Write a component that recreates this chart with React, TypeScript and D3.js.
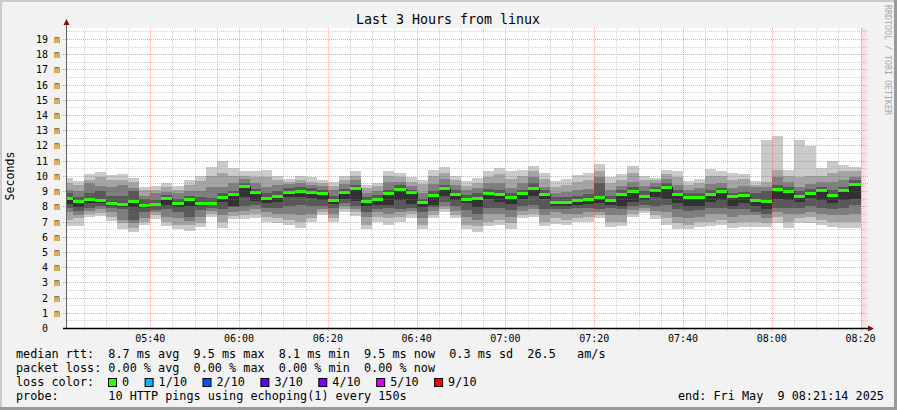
import React from "react";
import * as d3 from "d3";

const WIDTH = 897;
const HEIGHT = 410;
const MONO = "'DejaVu Sans Mono', monospace";

// 150 s steps ending 05:22:30 ... 08:20:00 (the first one is only partly in view)
const median = [
  8.57, 8.35, 8.46, 8.39, 8.22, 8.12, 8.37, 8.1, 8.17, 8.55,
  8.22, 8.5, 8.24, 8.2, 8.59, 8.83, 9.31, 8.92, 8.57, 8.7,
  8.96, 9.03, 8.96, 8.85, 8.42, 8.96, 9.2, 8.37, 8.5, 8.9,
  9.16, 8.96, 8.28, 8.72, 9.23, 8.83, 8.5, 8.55, 8.9, 8.79,
  8.63, 8.9, 9.23, 8.81, 8.31, 8.26, 8.42, 8.46, 8.61, 8.42,
  8.83, 9.01, 8.66, 9.05, 9.27, 8.83, 8.61, 8.63, 8.83, 9.03,
  8.68, 8.74, 8.39, 8.33, 9.14, 8.99, 8.66, 8.9, 9.07, 8.74,
  9.07, 9.49,
];

// the 10 pings of each step, sorted (ping1 fastest .. ping10 slowest)
const ping1 = [
  6.73, 6.73, 7.28, 7.36, 7.06, 6.49, 6.33, 6.79, 7.14, 6.71,
  6.49, 6.4, 6.66, 7.28, 6.57, 7.17, 7.14, 7.2, 7.0, 6.9,
  6.8, 6.6, 7.0, 7.4, 6.95, 7.65, 7.35, 6.5, 7.0, 6.8,
  7.0, 7.25, 6.5, 7.2, 7.6, 7.2, 6.5, 6.3, 6.7, 6.8,
  6.5, 7.2, 7.3, 6.7, 6.85, 6.8, 6.95, 6.95, 7.2, 6.65,
  6.7, 7.3, 7.55, 7.15, 6.8, 6.5, 6.5, 6.65, 6.7, 6.8,
  6.55, 6.65, 6.65, 6.65, 6.9, 6.6, 6.9, 6.9, 6.8, 6.65,
  6.6, 6.6,
];
const ping2 = [
  7.1, 7.2, 7.5, 7.55, 7.3, 6.9, 6.6, 7.0, 7.4, 7.0,
  6.8, 6.75, 6.9, 7.5, 7.0, 7.35, 7.4, 7.5, 7.3, 7.2,
  7.1, 7.0, 7.2, 7.6, 7.2, 7.8, 7.6, 6.8, 7.3, 7.2,
  7.3, 7.5, 6.8, 7.4, 7.8, 7.45, 6.8, 6.7, 7.0, 7.1,
  6.9, 7.45, 7.5, 7.0, 7.2, 7.1, 7.2, 7.3, 7.4, 7.0,
  7.0, 7.5, 7.7, 7.4, 7.2, 6.9, 6.8, 6.95, 7.0, 7.1,
  6.9, 7.0, 7.0, 6.9, 7.3, 7.0, 7.2, 7.3, 7.1, 7.0,
  7.0, 7.0,
];
const ping3 = [
  7.6, 7.4, 7.7, 7.8, 7.6, 7.1, 6.9, 7.2, 7.6, 7.3,
  7.2, 7.05, 7.3, 7.7, 7.4, 7.6, 7.7, 7.8, 7.6, 7.5,
  7.5, 7.4, 7.5, 7.8, 7.5, 8.0, 7.8, 7.3, 7.6, 7.5,
  7.6, 7.7, 7.2, 7.7, 8.0, 7.7, 7.3, 7.1, 7.5, 7.5,
  7.3, 7.7, 7.8, 7.4, 7.6, 7.5, 7.5, 7.6, 7.6, 7.4,
  7.4, 7.75, 7.9, 7.7, 7.6, 7.3, 7.2, 7.3, 7.5, 7.5,
  7.3, 7.4, 7.4, 7.2, 7.6, 7.5, 7.5, 7.6, 7.5, 7.4,
  7.4, 7.5,
];
const ping4 = [
  7.9, 7.7, 7.9, 8.0, 7.9, 7.8, 7.1, 7.6, 7.75, 7.8,
  7.6, 7.3, 7.75, 7.9, 7.85, 7.95, 8.0, 8.1, 7.9, 7.9,
  8.05, 8.1, 8.0, 8.05, 7.9, 8.2, 8.0, 7.6, 7.8, 7.9,
  7.85, 7.9, 7.65, 7.95, 8.3, 8.0, 7.75, 7.5, 7.9, 7.9,
  7.75, 8.0, 8.1, 7.8, 7.85, 7.8, 7.9, 7.9, 7.85, 7.9,
  7.8, 8.0, 8.1, 8.0, 8.1, 7.8, 7.7, 7.75, 7.9, 7.9,
  7.8, 7.85, 7.6, 7.5, 7.9, 7.9, 7.9, 8.0, 7.9, 7.8,
  7.9, 8.1,
];
const ping5 = [
  8.15, 7.93, 8.2, 8.2, 8.0, 7.95, 7.95, 7.9, 8.0, 8.1,
  7.95, 8.05, 8.0, 8.1, 8.25, 8.0, 8.6, 8.35, 8.2, 8.3,
  8.6, 8.6, 8.55, 8.4, 8.15, 8.5, 8.35, 8.0, 8.1, 8.1,
  8.4, 8.15, 7.95, 8.1, 8.65, 8.4, 8.2, 7.95, 8.5, 8.3,
  8.15, 8.5, 8.7, 8.45, 8.05, 8.0, 8.1, 8.15, 8.2, 8.1,
  8.05, 8.3, 8.4, 8.6, 8.5, 8.2, 8.0, 8.0, 8.3, 8.4,
  8.0, 8.2, 8.0, 7.8, 8.45, 8.4, 8.3, 8.55, 8.4, 8.2,
  8.4, 8.5,
];
const ping6 = [
  8.6, 8.35, 8.5, 8.45, 8.25, 8.15, 8.4, 8.1, 8.2, 8.55,
  8.25, 8.5, 8.25, 8.25, 8.6, 8.85, 9.35, 8.95, 8.6, 8.75,
  9.0, 9.05, 9.0, 8.9, 8.45, 9.0, 9.25, 8.4, 8.55, 8.95,
  9.2, 9.0, 8.3, 8.75, 9.25, 8.85, 8.55, 8.6, 8.95, 8.85,
  8.65, 8.95, 9.3, 8.85, 8.35, 8.3, 8.45, 8.5, 8.65, 8.45,
  8.9, 9.1, 8.7, 9.1, 9.3, 8.9, 8.65, 8.7, 8.85, 9.05,
  8.7, 8.75, 8.45, 8.4, 9.2, 9.05, 8.7, 8.95, 9.1, 8.8,
  9.1, 9.55,
];
const ping7 = [
  8.85, 8.6, 8.85, 9.0, 8.7, 8.65, 9.0, 8.5, 8.4, 8.75,
  8.5, 8.65, 8.6, 8.55, 8.85, 9.0, 9.5, 9.15, 8.9, 9.0,
  9.2, 9.25, 9.2, 9.05, 8.7, 9.15, 9.4, 8.6, 8.75, 9.1,
  9.4, 9.1, 8.5, 9.0, 9.4, 9.1, 8.75, 8.85, 9.15, 9.1,
  8.85, 9.1, 9.5, 9.05, 8.6, 8.6, 8.7, 8.8, 9.5, 8.7,
  9.05, 9.25, 9.0, 9.3, 9.5, 9.05, 8.85, 8.85, 9.05, 9.2,
  8.9, 8.95, 8.9, 9.0, 9.4, 9.25, 9.0, 9.15, 9.3, 9.05,
  9.3, 9.7,
];
const ping8 = [
  9.1, 9.0, 9.5, 9.35, 9.3, 9.4, 9.2, 8.7, 8.9, 8.95,
  8.85, 9.0, 9.0, 9.25, 9.3, 9.5, 9.8, 9.5, 9.3, 9.4,
  9.45, 9.5, 9.4, 9.35, 9.05, 9.45, 9.7, 8.9, 9.0, 9.6,
  9.6, 9.35, 8.9, 9.45, 9.8, 9.4, 9.1, 9.2, 9.5, 9.5,
  9.2, 9.5, 9.9, 9.3, 8.9, 8.95, 9.05, 9.15, 9.9, 9.1,
  9.35, 9.6, 9.35, 9.5, 9.8, 9.4, 9.1, 9.2, 9.45, 9.5,
  9.2, 9.35, 9.3, 9.3, 9.9, 9.6, 9.3, 9.45, 9.6, 9.6,
  9.7, 9.9,
];
const ping9 = [
  9.5, 9.4, 9.75, 9.9, 9.7, 9.75, 9.6, 9.05, 9.1, 9.3,
  9.1, 9.4, 9.65, 10.0, 10.2, 10.0, 10.0, 9.95, 9.9, 9.75,
  9.6, 9.75, 9.6, 9.55, 9.35, 9.7, 10.0, 9.2, 9.35, 10.0,
  9.9, 9.6, 9.45, 10.0, 10.2, 9.7, 9.35, 9.55, 9.95, 10.1,
  9.8, 10.0, 10.3, 9.8, 9.3, 9.4, 9.6, 9.7, 10.3, 9.5,
  9.75, 10.2, 9.75, 9.7, 10.1, 9.9, 9.4, 9.5, 10.0, 10.0,
  9.75, 9.8, 9.4, 9.6, 10.4, 10.0, 9.9, 10.0, 10.0, 10.2,
  10.3, 10.3,
];
const ping10 = [
  9.88, 9.69, 10.12, 10.26, 10.06, 10.12, 9.88, 9.29, 9.34, 9.56,
  9.34, 9.73, 9.99, 10.56, 10.98, 10.54, 10.32, 10.32, 10.4, 10.0,
  9.8, 10.0, 9.9, 9.7, 9.6, 10.0, 10.3, 9.4, 9.55, 10.3,
  10.2, 9.9, 9.7, 10.4, 10.6, 10.0, 9.65, 9.85, 10.3, 10.5,
  10.3, 10.4, 10.65, 10.2, 9.65, 9.8, 10.05, 10.2, 10.8, 9.9,
  10.1, 10.65, 10.0, 9.85, 10.4, 10.3, 9.65, 9.8, 10.45, 10.35,
  10.2, 10.1, 9.65, 12.35, 12.6, 10.4, 12.35, 11.95, 10.55, 10.95,
  10.7, 10.6,
];
const pings = [ping1, ping2, ping3, ping4, ping5, ping6, ping7, ping8, ping9, ping10];

const smokeColors = ["#cacaca", "#a4a4a4", "#7e7e7e", "#585858", "#323232"];
const timeLabels = ["05:40", "06:00", "06:20", "06:40", "07:00", "07:20", "07:40", "08:00", "08:20"];
const yLabels = [0, 1, 2, 3, 4, 5, 6, 7, 8, 9, 10, 11, 12, 13, 14, 15, 16, 17, 18, 19];
const lossLabels = ["0", "1/10", "2/10", "3/10", "4/10", "5/10", "9/10"];
const lossColors = ["#26ff00", "#00b8ff", "#0059ff", "#5e00ff", "#7e00ff", "#dd00ff", "#ff0000"];

const rttLine = "median rtt:  8.7 ms avg  9.5 ms max  8.1 ms min  9.5 ms now  0.3 ms sd  26.5   am/s";
const lossLine = "packet loss: 0.00 % avg  0.00 % max  0.00 % min  0.00 % now";
const probeLine = "probe:       10 HTTP pings using echoping(1) every 150s";
const endLine = "end: Fri May  9 08:21:14 2025";

const toMin = (s: string) => {
  const [h, m] = s.split(":").map(Number);
  return h * 60 + m;
};

const tStart = 5 * 60 + 21 + 14 / 60;
const tEnd = tStart + 180;
const firstStepEnd = 5 * 60 + 22.5;
const STEP = 2.5;

const App = () => {
  const x = d3.scaleLinear().domain([tStart, tEnd]).range([67, 866]);
  const y = d3.scaleLinear().domain([0, 19.72]).range([328, 28]);

  const cols = median.map((m, k) => {
    const end = firstStepEnd + k * STEP;
    const x0 = Math.round(x(Math.max(end - STEP, tStart)));
    const x1 = Math.round(x(end));
    return { k, m, x0, x1 };
  });

  const stepLine = d3
    .line<[number, number]>()
    .x((d) => d[0])
    .y((d) => d[1])
    .curve(d3.curveStepAfter)(
      cols.map((c) => [c.x0, Math.round(y(c.m)) + 0.5] as [number, number]).concat([
        [cols[cols.length - 1].x1, Math.round(y(cols[cols.length - 1].m)) + 0.5],
      ])
    );

  // grid
  const minorT = d3.range(325, 501, 5).filter((t) => t % 20 !== 0);
  const majorT = timeLabels.map(toMin);
  const minorY = yLabels.map((v) => v + 0.5);
  const majorY = yLabels.filter((v) => v > 0);

  const px = (v: number) => Math.round(v) + 0.5;

  // legend boxes
  let bx = 108;
  const boxes = lossLabels.map((l, i) => {
    const item = { x: bx, label: l, color: lossColors[i] };
    bx += 14 + l.length * 7.1 + 15.5;
    return item;
  });

  return (
    <svg
      width={WIDTH}
      height={HEIGHT}
      style={{ position: "absolute", left: 0, top: 0 }}
      fontFamily={MONO}
    >
      <rect x={0} y={0} width={WIDTH} height={HEIGHT} fill="#f2f2f2" />
      <rect x={0} y={0} width={WIDTH} height={2} fill="#cbcbcb" />
      <rect x={0} y={0} width={2} height={HEIGHT} fill="#cbcbcb" />
      <rect x={WIDTH - 3} y={0} width={3} height={HEIGHT} fill="#9b9b9b" />
      <rect x={0} y={HEIGHT - 3} width={WIDTH} height={3} fill="#9b9b9b" />

      <text x={448} y={24} textAnchor="middle" fontSize={13.3} fill="#000">
        Last 3 Hours from linux
      </text>

      {/* plot area */}
      <rect x={67} y={28} width={799} height={300} fill="#ffffff" />
      <rect
        x={Math.round(x(toMin("08:20")))}
        y={28}
        width={866 - Math.round(x(toMin("08:20")))}
        height={300}
        fill="#ffdcdc"
      />

      {/* smoke */}
      <g shapeRendering="crispEdges">
        {smokeColors.map((color, i) =>
          cols.map((c) => {
            const top = Math.round(y(pings[9 - i][c.k]));
            const bot = Math.round(y(pings[i][c.k]));
            return (
              <rect
                key={`s${i}-${c.k}`}
                x={c.x0}
                y={top}
                width={c.x1 - c.x0}
                height={bot - top}
                fill={color}
              />
            );
          })
        )}
      </g>
      <path d={stepLine || ""} fill="none" stroke="#202020" strokeWidth={1} shapeRendering="crispEdges" />
      <g shapeRendering="crispEdges">
        {cols.map((c) => (
          <rect
            key={`m${c.k}`}
            x={c.x0}
            y={Math.round(y(c.m)) - 1}
            width={c.x1 - c.x0}
            height={3}
            fill={lossColors[0]}
          />
        ))}
      </g>

      {/* grid on top */}
      <g shapeRendering="crispEdges" strokeWidth={1} strokeDasharray="1,1">
        {minorY.map((v) => (
          <line key={`hy${v}`} x1={67} x2={868} y1={px(y(v))} y2={px(y(v))} stroke="rgba(140,140,140,0.4)" />
        ))}
        {minorT.map((t) => (
          <line key={`vt${t}`} x1={px(x(t))} x2={px(x(t))} y1={28} y2={331} stroke="rgba(140,140,140,0.4)" />
        ))}
        {majorY.map((v) => (
          <line key={`Hy${v}`} x1={63} x2={868} y1={px(y(v))} y2={px(y(v))} stroke="rgba(225,40,40,0.4)" />
        ))}
        {majorT.map((t) => (
          <line key={`Vt${t}`} x1={px(x(t))} x2={px(x(t))} y1={28} y2={332} stroke="rgba(225,40,40,0.4)" />
        ))}
      </g>

      {/* axes */}
      <line x1={66.5} x2={66.5} y1={329} y2={24} stroke="#606060" strokeWidth={1} />
      <path d="M63.5,25 L66.5,19 L69.5,25 Z" fill="#7a1010" />
      <line x1={63} x2={868} y1={328.5} y2={328.5} stroke="#000" strokeWidth={1.4} />
      <path d="M868,325.5 L874,328.5 L868,331.5 Z" fill="#7a1010" />

      {/* y labels */}
      {yLabels.map((v) => (
        <text key={`yl${v}`} x={v === 0 ? 48 : 60} y={y(v) + 4} textAnchor="end" fontSize={10} fill="#000">
          {v === 0 ? "0" : `${v} `}
          {v === 0 ? null : <tspan fill="#7a5020">m</tspan>}
        </text>
      ))}

      {/* x labels */}
      {timeLabels.map((l) => (
        <text key={l} x={x(toMin(l))} y={342} textAnchor="middle" fontSize={10} fill="#000">
          {l}
        </text>
      ))}

      <text transform="translate(14,176) rotate(-90)" textAnchor="middle" fontSize={11.6} fill="#000">
        Seconds
      </text>
      <text transform="translate(885,5) rotate(90)" fontSize={8.3} fill="#a8a8a8">
        RRDTOOL / TOBI OETIKER
      </text>

      {/* legend */}
      <g fontSize={11.8} fill="#000" style={{ whiteSpace: "pre" }}>
        <text x={16} y={358} xmlSpace="preserve">{rttLine}</text>
        <text x={16} y={372} xmlSpace="preserve">{lossLine}</text>
        <text x={16} y={386} xmlSpace="preserve">loss color:</text>
        {boxes.map((b) => (
          <g key={b.label}>
            <rect x={b.x + 0.5} y={378.5} width={8} height={8} fill={b.color} stroke="#000" strokeWidth={1} />
            <text x={b.x + 14} y={386}>{b.label}</text>
          </g>
        ))}
        <text x={16} y={400} xmlSpace="preserve">{probeLine}</text>
        <text x={678} y={400} xmlSpace="preserve">{endLine}</text>
      </g>
    </svg>
  );
};

export default App;
